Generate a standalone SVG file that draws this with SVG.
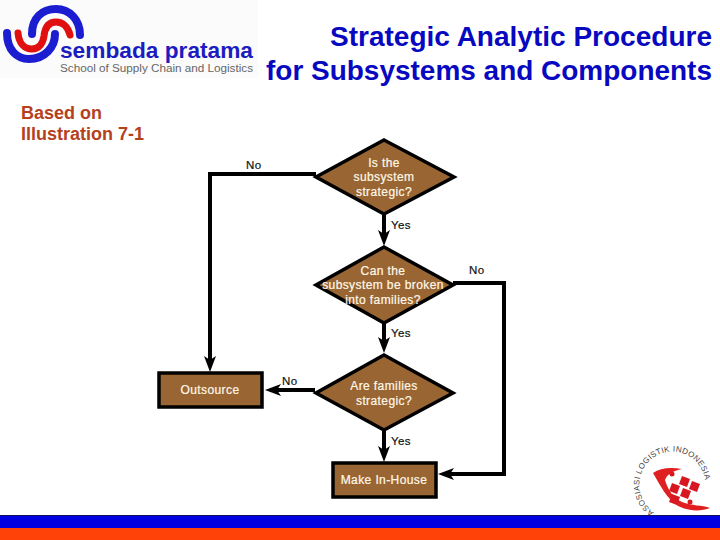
<svg xmlns="http://www.w3.org/2000/svg" xmlns:xlink="http://www.w3.org/1999/xlink" width="720" height="540" viewBox="0 0 720 540">
<style>
text{font-family:"Liberation Sans",Arial,sans-serif}
.n{fill:#996633;stroke:#000;stroke-width:3.5}
.t{fill:#fff8e8;font-size:12px;text-anchor:middle;letter-spacing:.4px;stroke:#fff8e8;stroke-width:.2}
.l{fill:#111;font-size:11.5px;letter-spacing:.4px;stroke:#111;stroke-width:.2}
.c{fill:none;stroke:#000;stroke-width:4}
.h{fill:#000}
.title{fill:#0808c0;font-size:27px;font-weight:bold}
.sub{fill:#b5401c;font-size:18px;font-weight:bold}
.arc{fill:none;stroke-width:8;stroke-linecap:round}
</style>
<defs><path id="ring" d="M654 512A33 33 0 1 1 704.7 478"/></defs>
<rect width="720" height="540" fill="#fff"/>
<g id="logo">
<rect x="0" y="0" width="258" height="78" fill="#fbfbfb"/>
<path class="arc" stroke="#1c1cd0" d="M7 33C7 50 17 59 29 59C45 59 55 47 55 34"/>
<path class="arc" stroke="#1c1cd0" d="M32 34C32 18 42 9 56 9C70 9 80 20 80 35"/>
<path class="arc" stroke="#e01010" style="stroke-width:7" d="M18 33C19 44 25 49 32 49C39 49 43 43 44 36C45 27 49 22 56 22C63 22 68 27 70 35"/>
<text x="60" y="58" font-size="22" font-weight="bold" fill="#1c1cc0" textLength="193" lengthAdjust="spacingAndGlyphs">sembada pratama</text>
<text x="60" y="72" font-size="10" fill="#666" textLength="193" lengthAdjust="spacingAndGlyphs">School of Supply Chain and Logistics</text>
</g>
<text class="title" x="330" y="46" textLength="382" lengthAdjust="spacingAndGlyphs">Strategic Analytic Procedure</text>
<text class="title" x="266" y="80" textLength="446" lengthAdjust="spacingAndGlyphs">for Subsystems and Components</text>
<text class="sub" x="21" y="119">Based on</text>
<text class="sub" x="21" y="140">Illustration 7-1</text>
<g id="connectors">
<path class="c" d="M316 174H210V360"/>
<path class="h" d="M210 372L204 356L210 360L216 356Z"/>
<path class="c" d="M384 214V235"/>
<path class="h" d="M384 246L378 230L384 234L390 230Z"/>
<path class="c" d="M384 323V342"/>
<path class="h" d="M384 353L378 337L384 341L390 337Z"/>
<path class="c" d="M384 430V451"/>
<path class="h" d="M384 462L378 446L384 450L390 446Z"/>
<path class="c" d="M315 390H277"/>
<path class="h" d="M265 390L281 384L277 390L281 396Z"/>
<path class="c" d="M453 283H504V474H450"/>
<path class="h" d="M438 474L454 468L450 474L454 480Z"/>
</g>
<g id="n1"><polygon class="n" points="384,140 454,177 384,214 316,177"/>
<text class="t" x="384" y="167">Is the</text><text class="t" x="384" y="181">subsystem</text><text class="t" x="384" y="196">strategic?</text></g>
<g id="n2"><polygon class="n" points="384,247 453,285 384,323 316,285"/>
<text class="t" x="383" y="275">Can the</text><text class="t" x="383" y="289">subsystem be broken</text><text class="t" x="383" y="304">into families?</text></g>
<g id="n3"><polygon class="n" points="384,355 453,393 384,430 316,393"/>
<text class="t" x="384" y="390">Are families</text><text class="t" x="384" y="405">strategic?</text></g>
<g id="n4"><rect class="n" x="159" y="373" width="103" height="34"/><text class="t" x="210" y="394">Outsource</text></g>
<g id="n5"><rect class="n" x="333" y="463" width="103" height="34"/><text class="t" x="384" y="484">Make In-House</text></g>
<g id="labels">
<text class="l" x="246" y="169">No</text>
<text class="l" x="391" y="229">Yes</text>
<text class="l" x="469" y="274">No</text>
<text class="l" x="391" y="337">Yes</text>
<text class="l" x="282" y="385">No</text>
<text class="l" x="391" y="445">Yes</text>
</g>
<g id="badge">
<text font-size="8" fill="#444" textLength="131"><textPath xlink:href="#ring" href="#ring">ASOSIASI LOGISTIK INDONESIA</textPath></text>
<path fill="#e02020" d="M653 473C660 468 670 467 682 469C673 471 667 474 665 480C668 490 673 498 682 502C692 506 702 505 710 508C700 512 688 511 678 506C667 499 660 485 653 473Z"/>
<circle cx="672" cy="474" r="2.5" fill="#d81820"/>
<g fill="#d81820">
<path d="M682 476L690 479L687 487L679 484Z"/>
<path d="M692 481L700 484L697 492L689 489Z"/>
<path d="M672 483L680 486L677 494L669 491Z"/>
<path d="M683 488L691 491L688 499L680 496Z"/>
<path d="M672 494L680 497L677 505L669 502Z"/>
<circle cx="690" cy="502" r="2.5"/>
</g>
</g>
<g id="footer">
<rect x="0" y="516" width="720" height="12" fill="#0000e0"/>
<rect x="0" y="528" width="720" height="12" fill="#ff4208"/>
<rect x="0" y="515" width="720" height="1" fill="#101060"/>
</g>
</svg>
